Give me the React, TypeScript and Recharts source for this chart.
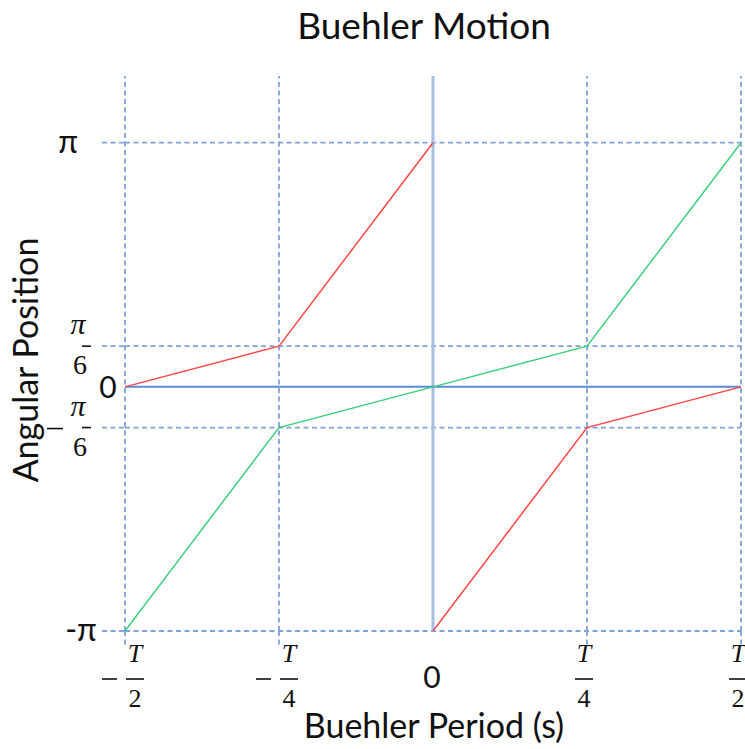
import React from 'react';
import { LineChart, Line, XAxis, YAxis, ReferenceLine } from 'recharts';

const PI = Math.PI;

// axis ticks (T = 1 period)
const xTicks = [-0.5, -0.25, 0, 0.25, 0.5];
const xTickLabels = ['-T/2', '-T/4', '0', 'T/4', 'T/2'];
const yTicks = [-PI, -PI / 6, 0, PI / 6, PI];
const yTickLabels = ['-π', '-π/6', '0', 'π/6', 'π'];

// red: rises to π, wraps to -π at t = 0
const redRiseX = [-0.5, -0.25, 0];
const redRiseY = [0, PI / 6, PI];
const redWrapX = [0, 0.25, 0.5];
const redWrapY = [-PI, -PI / 6, 0];

// green: one continuous sweep
const greenX = [-0.5, -0.25, 0, 0.25, 0.5];
const greenY = [-PI, -PI / 6, 0, PI / 6, PI];

const toPoints = (xs: number[], ys: number[]) => xs.map((t, i) => ({ t, angle: ys[i] }));

const PLOT_LEFT = 125;
const PLOT_BOTTOM = 631;
const GRID = '#7fa2d8';
const DASH = '5 3.5';
const SANS = 'Lato, "Open Sans", sans-serif';
const SERIF = '"Liberation Serif", "DejaVu Serif", serif';
const INK = '#111';

function XTick(props: any) {
  const { x, payload } = props;
  const label = xTickLabels[xTicks.indexOf(payload.value)] ?? '';
  if (label === '0') {
    return <text x={x - 1} y={688} textAnchor="middle" fontFamily={SANS} fontSize={30} fill={INK}>0</text>;
  }
  const neg = label.startsWith('-');
  const [num, den] = label.replace('-', '').split('/');
  const cx = neg ? x + 10 : x - 3;
  const barY = 679;
  return (
    <g>
      <line x1={x} x2={x} y1={PLOT_BOTTOM} y2={PLOT_BOTTOM + 14} stroke={GRID} strokeWidth={1.8} strokeDasharray={DASH} />
      {neg && <line x1={x - 23} x2={x - 8} y1={barY} y2={barY} stroke={INK} strokeWidth={1.6} />}
      <text x={cx} y={barY - 17} textAnchor="middle" fontFamily={SERIF} fontSize={26} fontStyle="italic" fill={INK}>{num}</text>
      <line x1={cx - 9} x2={cx + 9} y1={barY} y2={barY} stroke={INK} strokeWidth={1.6} />
      <text x={cx} y={barY + 28} textAnchor="middle" fontFamily={SERIF} fontSize={26} fill={INK}>{den}</text>
    </g>
  );
}

function YTick(props: any) {
  const { y, payload } = props;
  const label = yTickLabels[yTicks.findIndex((v) => Math.abs(v - payload.value) < 1e-9)] ?? '';
  const ext = (
    <line x1={102} x2={PLOT_LEFT} y1={y} y2={y} stroke={GRID} strokeWidth={1.8} strokeDasharray={DASH} />
  );
  if (label === '0') {
    return <text x={108} y={y + 11} textAnchor="middle" fontFamily={SANS} fontSize={30} fill={INK}>0</text>;
  }
  if (label.includes('/')) {
    const neg = label.startsWith('-');
    const [num, den] = label.replace('-', '').split('/');
    return (
      <g>
        {ext}
        {neg && <line x1={47} x2={63} y1={y + 1} y2={y + 1} stroke={INK} strokeWidth={1.6} />}
        <text x={78} y={y - 12} textAnchor="middle" fontFamily={SERIF} fontSize={30} fontStyle="italic" fill={INK}>{num}</text>
        <line x1={82} x2={91} y1={y} y2={y} stroke={INK} strokeWidth={1.6} />
        <text x={80} y={y + 28} textAnchor="middle" fontFamily={SERIF} fontSize={28} fill={INK}>{den}</text>
      </g>
    );
  }
  return (
    <g>
      {ext}
      <text x={label === 'π' ? 68 : 81} y={y + 10} textAnchor="middle" fontFamily={SANS} fontSize={32} fill={INK}>{label}</text>
    </g>
  );
}

export default function App() {
  return (
    <div style={{ position: 'absolute', left: 0, top: 0, width: 745, height: 749, background: '#fff' }}>
      <LineChart width={745} height={749} margin={{ top: 76, right: 4, bottom: 0, left: 0 }}>
        <XAxis
          dataKey="t"
          type="number"
          domain={[-0.5, 0.5]}
          ticks={xTicks}
          interval={0}
          height={118}
          axisLine={false}
          tickLine={false}
          tick={<XTick />}
        />
        <YAxis
          type="number"
          domain={[-PI, 4]}
          allowDataOverflow
          ticks={yTicks}
          interval={0}
          width={125}
          axisLine={false}
          tickLine={false}
          tick={<YTick />}
        />
        {xTicks.filter((v) => v !== 0).map((v) => (
          <ReferenceLine key={'vx' + v} x={v} stroke={GRID} strokeWidth={1.8} strokeDasharray={DASH} />
        ))}
        {yTicks.filter((v) => v !== 0).map((v) => (
          <ReferenceLine key={'hy' + v} y={v} stroke={GRID} strokeWidth={1.8} strokeDasharray={DASH} />
        ))}
        <ReferenceLine x={0} stroke="#a6c0e4" strokeWidth={3} />
        <ReferenceLine y={0} stroke="#5b8bd2" strokeWidth={2} />
        <Line data={toPoints(redRiseX, redRiseY)} dataKey="angle" stroke="#ff4545" strokeWidth={1.5} dot={false} isAnimationActive={false} />
        <Line data={toPoints(redWrapX, redWrapY)} dataKey="angle" stroke="#ff4545" strokeWidth={1.5} dot={false} isAnimationActive={false} />
        <Line data={toPoints(greenX, greenY)} dataKey="angle" stroke="#3ccf7e" strokeWidth={1.5} dot={false} isAnimationActive={false} />
      </LineChart>
      <svg width={745} height={749} style={{ position: 'absolute', left: 0, top: 0, pointerEvents: 'none' }}>
        <text x={424} y={39} textAnchor="middle" fontFamily={SANS} fontSize={37} fill={INK}>Buehler Motion</text>
        <text x={434} y={738} textAnchor="middle" fontFamily={SANS} fontSize={34} fill={INK}>Buehler Period (s)</text>
        <text transform="translate(38 360) rotate(-90)" textAnchor="middle" fontFamily={SANS} fontSize={34} fill={INK}>Angular Position</text>
      </svg>
    </div>
  );
}
